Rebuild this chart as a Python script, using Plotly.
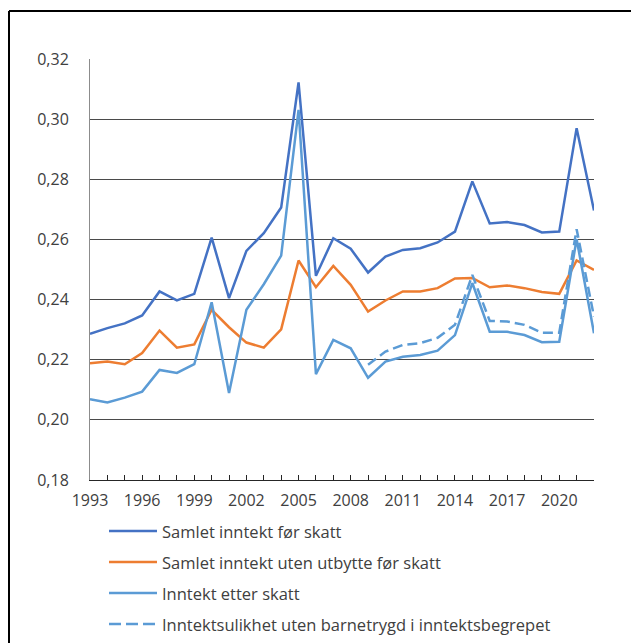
import plotly.graph_objects as go

years = list(range(1993, 2023))

samlet_for_skatt = [0.2286, 0.2305, 0.2321, 0.2347, 0.2427, 0.2397, 0.2419, 0.2606, 0.2405, 0.2562,
                    0.2621, 0.2706, 0.3122, 0.2479, 0.2604, 0.2569, 0.2490, 0.2543, 0.2565, 0.2571,
                    0.2590, 0.2626, 0.2793, 0.2653, 0.2658, 0.2648, 0.2623, 0.2626, 0.2970, 0.2696]

uten_utbytte = [0.2188, 0.2194, 0.2185, 0.2222, 0.2297, 0.2240, 0.2251, 0.2366, 0.2308, 0.2257,
                0.2240, 0.2301, 0.2530, 0.2441, 0.2512, 0.2449, 0.2360, 0.2397, 0.2427, 0.2427,
                0.2438, 0.2470, 0.2472, 0.2441, 0.2447, 0.2438, 0.2425, 0.2419, 0.2530, 0.2499]

etter_skatt = [0.2069, 0.2058, 0.2074, 0.2094, 0.2166, 0.2156, 0.2185, 0.2391, 0.2089, 0.2366,
               0.2451, 0.2546, 0.3031, 0.2152, 0.2266, 0.2238, 0.2140, 0.2194, 0.2210, 0.2216,
               0.2230, 0.2282, 0.2455, 0.2293, 0.2293, 0.2282, 0.2258, 0.2260, 0.2601, 0.2288]

years_uten_barnetrygd = list(range(2009, 2023))
uten_barnetrygd = [0.2183, 0.2227, 0.2249, 0.2255, 0.2273, 0.2316, 0.2482, 0.2329, 0.2327, 0.2316,
                   0.2290, 0.2290, 0.2634, 0.2343]

names = ["Samlet inntekt før skatt",
         "Samlet inntekt uten utbytte før skatt",
         "Inntekt etter skatt",
         "Inntektsulikhet uten barnetrygd i inntektsbegrepet"]
colors = ["#4472C4", "#ED7D31", "#5B9BD5", "#5B9BD5"]
dashes = ["solid", "solid", "solid", "10px,5px"]

FONT = "Open Sans"
TXT = "#404040"

fig = go.Figure()
series = [(years, samlet_for_skatt), (years, uten_utbytte), (years, etter_skatt),
          (years_uten_barnetrygd, uten_barnetrygd)]
for (xs, ys), n, c, d in zip(series, names, colors, dashes):
    fig.add_trace(go.Scatter(x=xs, y=ys, mode="lines", name=n,
                             line=dict(color=c, width=2.5, dash=d), showlegend=False))

OFF = 8  # page body margin
W, H = 631, 635
L, R, T, B = 82, 45, 51, 163
pw, ph = W - L - R, H - T - B

def px(x):  # absolute page x -> paper
    return (x - OFF - L) / pw

def py(y):  # absolute page y -> paper
    return (H - B - (y - OFF)) / ph

shapes = []
annotations = []
row_y = [531, 562, 593, 624]
legend_dash = ["solid", "solid", "solid", "12px,5px"]
for i, n in enumerate(names):
    shapes.append(dict(type="line", xref="paper", yref="paper",
                       x0=px(109), x1=px(157), y0=py(row_y[i]), y1=py(row_y[i]),
                       line=dict(color=colors[i], width=2.5, dash=legend_dash[i])))
    annotations.append(dict(xref="paper", yref="paper", x=px(160), y=py(row_y[i]),
                            xanchor="left", yanchor="middle", showarrow=False, text=n,
                            font=dict(family=FONT, size=16.5, color=TXT)))

# outer frame
shapes.append(dict(type="line", xref="paper", yref="paper",
                   x0=px(9), x1=px(9), y0=py(11), y1=py(700),
                   line=dict(color="#000000", width=2)))
shapes.append(dict(type="line", xref="paper", yref="paper",
                   x0=px(9), x1=px(700), y0=py(11), y1=py(11),
                   line=dict(color="#000000", width=2)))

fig.update_layout(
    width=W, height=H,
    margin=dict(l=L, r=R, t=T, b=B, pad=0),
    paper_bgcolor="white", plot_bgcolor="white",
    separators=", ",
    showlegend=False,
    shapes=shapes, annotations=annotations,
    font=dict(family=FONT, size=16, color=TXT),
)
fig.update_xaxes(range=[1993, 2022], tick0=1993, dtick=3, tickmode="linear",
                 showgrid=False, zeroline=False,
                 showline=True, linecolor="#262626", linewidth=1,
                 ticks="inside", ticklen=5, tickcolor="#262626", tickwidth=1,
                 minor=dict(dtick=1, tick0=1993, ticks="inside", ticklen=5,
                            tickcolor="#262626", tickwidth=1, showgrid=False),
                 ticklabelstandoff=6,
                 tickfont=dict(family=FONT, size=16, color=TXT))
fig.update_yaxes(range=[0.18, 0.32], tick0=0.18, dtick=0.02, tickmode="linear",
                 tickformat=".2f", showgrid=True, gridcolor="#4a4a4a", gridwidth=1,
                 zeroline=False, showline=True, linecolor="#8c8c8c", linewidth=1,
                 ticks="", ticklabelstandoff=17,
                 tickfont=dict(family=FONT, size=16, color=TXT))

fig.write_html("out.html")
